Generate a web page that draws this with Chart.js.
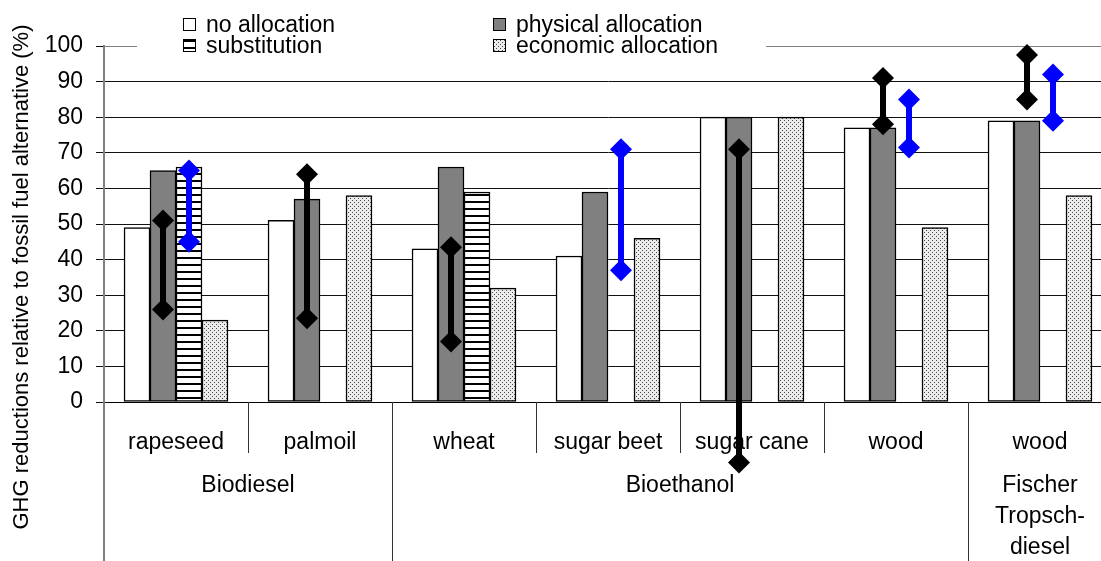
<!DOCTYPE html>
<html><head><meta charset="utf-8">
<script src="https://cdn.jsdelivr.net/npm/chart.js@4.4.1/dist/chart.umd.min.js"></script>
<style>html,body{margin:0;padding:0;background:#fff;overflow:hidden;} #wrap{width:1112px;height:561px;}</style>
</head><body><div id="wrap"><canvas id="c" width="1112" height="561"></canvas></div>
<script>
// ---------- data ----------
const categories = ['rapeseed', 'palmoil', 'wheat', 'sugar beet', 'sugar cane', 'wood', 'wood'];
const groupLabels = [['Biodiesel'], ['Bioethanol'], ['Fischer', 'Tropsch-', 'diesel']];
const groupSizes = [2, 4, 1];
const seriesNames = ['no allocation', 'physical allocation', 'substitution', 'economic allocation'];
const noAllocation       = [49, 51, 43, 41, 80, 77, 79];
const physicalAllocation = [65, 57, 66, 59, 80, 77, 79];
const substitution       = [66, null, 59, null, null, null, null];
const economicAllocation = [23, 58, 32, 46, 80, 49, 58];
// ranges (black over physical allocation, blue over substitution)
const physRangeLow  = [26, 23.5, 17, null, -17, 78, 85];
const physRangeHigh = [51, 64, 43.5, null, 71, 91, 97.5];
const subsRangeLow  = [45, null, null, 37, null, 71.5, 79];
const subsRangeHigh = [65, null, null, 71, null, 85, 92];
const yAxisTitle = 'GHG reductions relative to fossil fuel alternative (%)';
const yMin = 0, yMax = 100, yStep = 10;

// ---------- styles ----------
const FONT = '"Liberation Sans", Arial, sans-serif';
Chart.defaults.font.family = FONT;
Chart.defaults.color = '#000';
const GROUP_PCT = 0.722;   // share of a category taken by the bar group
const NBARS = 4;
function slotOffset(k) { return (k + 0.5 - NBARS / 2) * GROUP_PCT / NBARS; }

function makePattern(w, h, draw) {
  const c = document.createElement('canvas'); c.width = w; c.height = h;
  const g = c.getContext('2d'); draw(g);
  return g.createPattern(c, 'repeat');
}
const stripes = makePattern(8, 7, g => { g.fillStyle = '#fff'; g.fillRect(0, 0, 8, 7); g.fillStyle = '#000'; g.fillRect(0, 5, 8, 2); });
const dots = makePattern(4, 4, g => { g.fillStyle = '#ececec'; g.fillRect(0, 0, 4, 4); g.fillStyle = '#4a4a4a'; g.fillRect(0, 0, 1, 1); g.fillRect(2, 2, 1, 1); });
const fills = ['#ffffff', '#808080', stripes, dots];

function barPoints(values, slot) {
  const pts = [];
  values.forEach((v, i) => { if (v != null) pts.push({ x: i + slotOffset(slot), y: v }); });
  return pts;
}
function rangePoints(low, high, slot) {
  const pts = [];
  low.forEach((lo, i) => {
    if (lo == null) return;
    const x = i + slotOffset(slot);
    pts.push({ x: x, y: lo }, { x: x, y: high[i] }, { x: x, y: null });
  });
  return pts;
}

const barSeries = [noAllocation, physicalAllocation, substitution, economicAllocation];
const datasets = barSeries.map((d, k) => ({
  type: 'bar', label: seriesNames[k], data: barPoints(d, k), backgroundColor: fills[k],
  borderColor: '#000', borderWidth: 1.5, borderSkipped: false, grouped: false,
  barPercentage: 1, categoryPercentage: 1, order: 1
}));
function rangeDataset(low, high, slot, color) {
  return {
    type: 'line', data: rangePoints(low, high, slot), label: '',
    borderColor: color, borderWidth: 6, borderCapStyle: 'butt', spanGaps: false,
    pointStyle: 'rectRot', pointRadius: 11, pointHoverRadius: 11, pointBackgroundColor: color,
    pointBorderWidth: 0, order: 0, clip: false
  };
}
datasets.push(rangeDataset(physRangeLow, physRangeHigh, 1, '#000000'));
datasets.push(rangeDataset(subsRangeLow, subsRangeHigh, 2, '#0000ff'));

// ---------- plugins ----------
const yTitlePlugin = {
  id: 'yTitle',
  afterDraw(chart) {
    const ctx = chart.ctx; ctx.save();
    ctx.translate(22, 277); ctx.rotate(-Math.PI / 2);
    ctx.font = '22px ' + FONT; ctx.fillStyle = '#000'; ctx.textAlign = 'center'; ctx.textBaseline = 'middle';
    ctx.fillText(yAxisTitle, 0, 0); ctx.restore();
  }
};
const groupPlugin = {
  id: 'groups',
  beforeDatasetsDraw(chart) {
    const ctx = chart.ctx, x = chart.scales.x, a = chart.chartArea;
    const bottom = chart.height;
    const boundary = i => x.getPixelForValue(i - 0.5);
    ctx.save();
    const groupEdges = [0]; groupSizes.forEach(s => groupEdges.push(groupEdges[groupEdges.length - 1] + s));
    for (let i = 1; i < categories.length; i++) {
      const px = Math.round(boundary(i)) + 0.5;
      const full = groupEdges.includes(i);
      ctx.strokeStyle = '#333'; ctx.lineWidth = 1;
      ctx.beginPath(); ctx.moveTo(px, a.bottom); ctx.lineTo(px, full ? bottom : a.bottom + 51); ctx.stroke();
    }
    ctx.strokeStyle = '#808080'; ctx.lineWidth = 2;
    ctx.beginPath(); ctx.moveTo(a.left, a.bottom); ctx.lineTo(a.left, bottom); ctx.stroke();
    ctx.font = '23px ' + FONT; ctx.fillStyle = '#000'; ctx.textAlign = 'center'; ctx.textBaseline = 'alphabetic';
    groupLabels.forEach((lines, g) => {
      const cx = (boundary(groupEdges[g]) + boundary(groupEdges[g + 1])) / 2;
      lines.forEach((t, j) => ctx.fillText(t, cx, a.bottom + 90 + j * 31));
    });
    ctx.restore();
  }
};
const outsidePointsPlugin = {
  id: 'outsidePoints',
  afterDatasetsDraw(chart) {
    const a = chart.chartArea, big = { left: -1e5, top: -1e5, right: 1e5, bottom: 1e5 };
    chart.data.datasets.forEach((ds, i) => {
      if (ds.type !== 'line') return;
      chart.getDatasetMeta(i).data.forEach(pt => {
        if (pt.skip || isNaN(pt.y)) return;
        if (pt.y > a.bottom + 1 || pt.y < a.top - 1) pt.draw(chart.ctx, big);
      });
    });
  }
};
const legendPlugin = {
  id: 'customLegend',
  afterDraw(chart) {
    const ctx = chart.ctx; ctx.save();
    ctx.fillStyle = '#fff'; ctx.fillRect(137, 0, 629, 60);
    const cols = [183, 493], rows = [18, 39];
    const layout = [[0, 0, 0], [1, 1, 0], [2, 0, 1], [3, 1, 1]];
    ctx.font = '23px ' + FONT; ctx.textBaseline = 'alphabetic'; ctx.textAlign = 'left';
    layout.forEach(([k, c, r]) => {
      const ds = chart.data.datasets[k];
      const bx = cols[c], by = rows[r];
      ctx.fillStyle = ds.backgroundColor; ctx.fillRect(bx, by, 13, 13);
      ctx.strokeStyle = '#000'; ctx.lineWidth = 1; ctx.strokeRect(bx + 0.5, by + 0.5, 12, 12);
      ctx.fillStyle = '#000'; ctx.fillText(ds.label, bx + 23, by + 14);
    });
    ctx.restore();
  }
};

new Chart(document.getElementById('c'), {
  type: 'bar',
  data: { datasets: datasets },
  options: {
    responsive: false, animation: false, devicePixelRatio: 1,
    layout: { autoPadding: false, padding: { top: 46, left: 0, right: 0, bottom: 0 } },
    plugins: { legend: { display: false }, tooltip: { enabled: false }, title: { display: false } },
    scales: {
      x: {
        type: 'linear', min: -0.5, max: categories.length - 0.5, offset: false,
        grid: { display: false },
        border: { display: true, color: '#000', width: 1 },
        afterBuildTicks(s) { s.ticks = categories.map((_, i) => ({ value: i })); },
        ticks: {
          autoSkip: false, maxRotation: 0, minRotation: 0,
          color: '#000', font: { size: 23, lineHeight: 1.2 }, padding: 19,
          callback: (v, i) => categories[i]
        },
        afterFit(s) { s.height = 159; }
      },
      y: {
        min: yMin, max: yMax,
        ticks: { stepSize: yStep, color: '#000', font: { size: 23 }, padding: 13 },
        grid: { color: c => (c.tick && c.tick.value === yMax) ? '#808080' : '#111', lineWidth: 1, tickLength: 8, tickColor: '#111' },
        border: { color: '#808080', width: 2 },
        afterFit(s) { s.width = 104; }
      }
    }
  },
  plugins: [groupPlugin, outsidePointsPlugin, yTitlePlugin, legendPlugin]
});
</script>
</body></html>
